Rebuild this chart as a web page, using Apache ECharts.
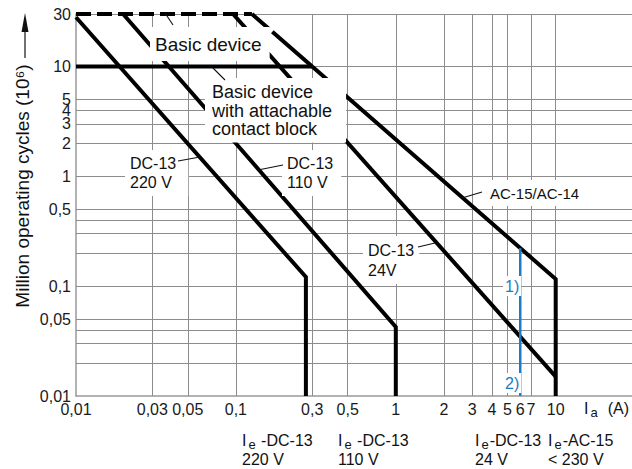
<!DOCTYPE html>
<html><head><meta charset="utf-8">
<script src="https://cdn.jsdelivr.net/npm/echarts@6/dist/echarts.min.js"></script>
<style>html,body{margin:0;padding:0;background:#fff}#c{width:632px;height:469px}</style>
</head><body><div id="c"></div>
<script>
// ---- data (log-log: current Ia in A, million operating cycles) ----
const xTickValues = [0.01, 0.03, 0.05, 0.1, 0.3, 0.5, 1, 2, 3, 4, 5, 6, 7, 10];
const yTickValues = [0.01, 0.05, 0.1, 0.5, 1, 2, 3, 4, 5, 10, 30];
const xGridValues = [0.03, 0.05, 0.1, 0.3, 0.5, 1, 2, 3, 4, 5, 7, 10];
const yGridValues = [0.02, 0.03, 0.04, 0.05, 0.1, 0.2, 0.3, 0.4, 0.5, 1, 2, 3, 4, 5, 10, 30];

const dc13_220V = [[0.01, 28], [0.274, 0.121], [0.274, 0.01]];
const dc13_110V = [[0.0197, 30], [1, 0.0425], [1, 0.01]];
const dc13_24V = [[0.096, 30], [10, 0.015]];
const basicDevice = [[0.01, 30], [0.126, 30]];
const basicDeviceAC = [[0.126, 30], [0.3, 10]];
const withContactBlock = [[0.01, 10], [0.3, 10]];
const ac15_ac14 = [[0.3, 10], [10, 0.116], [10, 0.01]];
const limit6A = [[6, 0.222], [6, 0.01]];

const FONT = '"Liberation Sans", Arial, Helvetica, sans-serif';
const BLUE = '#1a7cc4';
const fmt = v => String(+(+v).toPrecision(6)).replace('.', ',');

const curve = (name, data, extra) => Object.assign({
  type: 'line', name, data, symbol: 'none', clip: false, silent: true, z: 5,
  lineStyle: { color: '#000', width: 4, join: 'miter', cap: 'butt' }
}, extra || {});

const box = (text, x, y, fontSize, lineHeight, padding, color) => ({
  type: 'text', x, y, z: 50,
  style: { text, fontSize, fontFamily: FONT, fill: color || '#111', lineHeight,
    backgroundColor: '#fff', padding, align: 'left', verticalAlign: 'top' }
});
const pointer = (x1, y1, x2, y2) => ({
  type: 'line', z: 60, shape: { x1, y1, x2, y2 }, style: { stroke: '#111', lineWidth: 1.1 }
});
const richA = { fontSize: 16, fontFamily: FONT, fill: '#111', lineHeight: 16 };
const richS = { fontSize: 13, fontFamily: FONT, fill: '#111', lineHeight: 12, padding: [8, 1, 0, 2] };
const subLabel = (text, x, y) => ({
  type: 'text', x, y, z: 50,
  style: { text, rich: { a: richA, s: richS, b: Object.assign({}, richA, { padding: [0, 0, 0, 9] }) },
    align: 'left', verticalAlign: 'middle' }
});
const plain = (text, x, y, fontSize) => ({
  type: 'text', x, y, z: 50,
  style: { text, fontSize: fontSize || 16, fontFamily: FONT, fill: '#111', align: 'left', verticalAlign: 'middle' }
});

const chart = echarts.init(document.getElementById('c'), null, { renderer: 'svg' });
const axisLabel = (vals) => ({ customValues: vals, formatter: fmt, fontSize: 16, color: '#1a1a1a', fontFamily: FONT, margin: 5 });

chart.setOption({
  animation: false,
  backgroundColor: '#fff',
  grid: { left: 76, right: 0, top: 14, bottom: 73, outerBoundsMode: 'none' },
  xAxis: {
    type: 'log', logBase: 10, min: 0.01, max: 30,
    axisLine: { show: true, onZero: false, lineStyle: { color: '#999', width: 1.5 } },
    axisTick: { show: false }, splitLine: { show: false }, minorTick: { show: false },
    axisLabel: axisLabel(xTickValues)
  },
  yAxis: {
    type: 'log', logBase: 10, min: 0.01, max: 30,
    axisLine: { show: true, onZero: false, lineStyle: { color: '#999', width: 1.5 } },
    axisTick: { show: false }, splitLine: { show: false }, minorTick: { show: false },
    axisLabel: axisLabel(yTickValues)
  },
  series: [
    {
      type: 'line', data: [], z: 1, silent: true,
      markLine: {
        silent: true, symbol: ['none', 'none'], label: { show: false }, animation: false,
        lineStyle: { color: '#8c8c8c', width: 1, type: 'solid' },
        data: xGridValues.map(v => ({ xAxis: v })).concat(yGridValues.map(v => ({ yAxis: v })))
      }
    },
    curve('DC-13 220 V', dc13_220V),
    curve('DC-13 110 V', dc13_110V),
    curve('DC-13 24V', dc13_24V),
    curve('Basic device', basicDevice, { lineStyle: { color: '#000', width: 4, type: [15, 6], cap: 'butt' } }),
    curve('Basic device AC', basicDeviceAC, { lineStyle: { color: '#000', width: 4, type: [22, 5, 200, 0], cap: 'butt' } }),
    curve('Basic device with attachable contact block', withContactBlock),
    curve('AC-15/AC-14', ac15_ac14),
    curve('6 A', limit6A, { z: 6, lineStyle: { color: BLUE, width: 2.5 } })
  ],
  graphic: [
    box('Basic device', 150, 27, 19, 23, [6, 8, 5, 5]),
    box('Basic device\nwith attachable\ncontact block', 205, 78, 18, 18.5, [5, 14, 4, 7]),
    box('DC-13\n220 V', 125, 150, 16, 19, [4, 12, 4, 5]),
    box('DC-13\n110 V', 282, 150, 16, 19, [4, 8, 4, 5]),
    box('AC-15/AC-14', 485, 180, 15, 18, [4, 6, 4, 5]),
    box('DC-13\n24V', 363, 236, 16, 20, [4, 5, 4, 5]),
    box('1)', 503, 276, 16, 18, [1, 2, 1, 2], BLUE),
    box('2)', 503, 373, 16, 18, [1, 2, 1, 2], BLUE),
    pointer(165, 13, 173, 25),
    pointer(213, 68, 225, 80),
    pointer(178, 161, 200, 157),
    pointer(283, 165, 258, 170),
    pointer(482, 192, 462, 198),
    pointer(418, 247, 435, 243),
    subLabel('{a|I}{s|e}{a| -DC-13}', 242, 440),
    plain('220 V', 242, 459),
    subLabel('{a|I}{s|e}{a| -DC-13}', 338, 440),
    plain('110 V', 338, 459),
    subLabel('{a|I}{s|e}{a|-DC-13}', 475, 440),
    plain('24 V', 475, 459),
    subLabel('{a|I}{s|e}{a|-AC-15}', 548, 440),
    plain('< 230 V', 548, 459),
    subLabel('{a|I}{s|a}{b|(A)}', 584, 408),
    {
      type: 'text', x: 22, y: 186, rotation: Math.PI / 2, z: 50,
      style: { text: 'Million operating cycles (10⁶)', fontSize: 19, fontFamily: FONT, fill: '#111', align: 'center', verticalAlign: 'middle' }
    },
    { type: 'line', z: 50, shape: { x1: 25, y1: 58, x2: 25, y2: 30 }, style: { stroke: '#111', lineWidth: 1.2 } },
    { type: 'polygon', z: 50, shape: { points: [[25, 13], [21.5, 32], [28.5, 32]] }, style: { fill: '#111' } }
  ]
});
</script>
</body></html>
